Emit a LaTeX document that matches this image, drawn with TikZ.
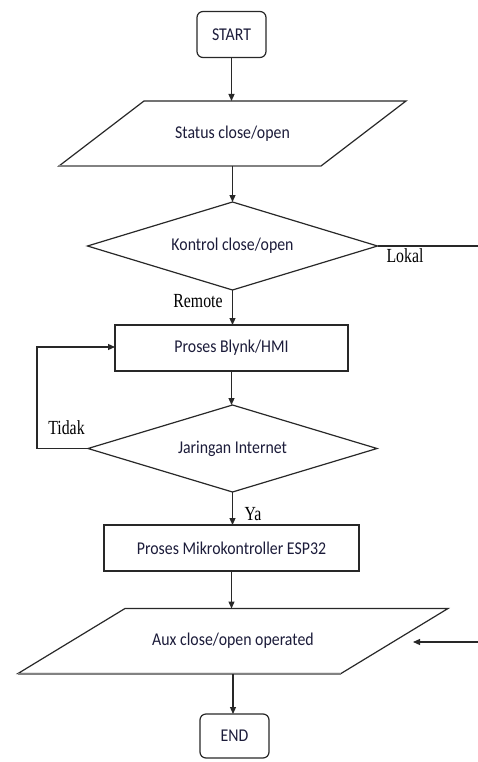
\documentclass[tikz,border=0pt]{standalone}
\usepackage{fontspec}
\usetikzlibrary{arrows.meta,shapes.geometric}
\newfontfamily\boxfont{Carlito}[FakeStretch=0.88]
\newfontfamily\labfont{Liberation Serif}[FakeStretch=0.79]
\definecolor{txt}{RGB}{28,28,58}
\definecolor{edge}{RGB}{40,40,40}
\definecolor{shade}{RGB}{130,130,130}
\begin{document}
\begin{tikzpicture}[x=1pt,y=-1pt,
  every node/.style={inner sep=0pt,outer sep=0pt},
  boxtext/.style={font=\boxfont\fontsize{18}{20}\selectfont,text=txt},
  labtext/.style={font=\labfont\fontsize{20}{22}\selectfont,text=black},
  term/.style={boxtext,draw=edge,line width=1.2pt,rounded corners=6pt,minimum width=69pt,minimum height=46pt},
  procbox/.style={boxtext,draw=edge,line width=1.2pt,minimum height=46pt},
  decision/.style={boxtext,draw=edge,line width=1.2pt,diamond,aspect=3},
  iobody/.style={boxtext,minimum height=65pt},
  flow/.style={draw=edge,line width=1.2pt,-{Triangle[length=7pt,width=6pt]}},
  plain/.style={draw=edge,line width=1.2pt},
  para/.style={draw=edge,line width=1.2pt,line join=miter},
  parabottom/.style={draw=shade,line width=2pt}
]
\useasboundingbox (0,0) rectangle (478,762);
\fill[white] (0,0) rectangle (478,762);

% nodes
\node[term] (start) at (231.5,34.5) {START};
\node[iobody,minimum width=262pt] (status) at (232.5,133.5) {Status close/open};
\node[decision,minimum width=290pt,minimum height=88pt] (kontrol) at (232.5,246) {Kontrol close/open};
\node[procbox,minimum width=233pt] (blynk) at (231.5,348) {Proses Blynk/HMI};
\node[decision,minimum width=289pt,minimum height=87pt] (jaringan) at (232.5,448.5) {Jaringan Internet};
\node[procbox,minimum width=255pt] (esp) at (231.5,548) {Proses Mikrokontroller ESP32};
\node[iobody,minimum width=323pt] (aux) at (233,641) {Aux close/open operated};
\node[term,minimum height=44pt] (end) at (234.5,736) {END};

% parallelograms
\draw[para] ([xshift=42.5pt]status.north west) -- ([xshift=42.5pt]status.north east)
  -- ([xshift=-42.5pt]status.south east) -- ([xshift=-42.5pt]status.south west) -- cycle;
\draw[parabottom] ([xshift=-42.5pt]status.south west) -- ([xshift=-42.5pt]status.south east);
\draw[para] ([xshift=53.5pt]aux.north west) -- ([xshift=53.5pt]aux.north east)
  -- ([xshift=-53.5pt]aux.south east) -- ([xshift=-53.5pt]aux.south west) -- cycle;
\draw[parabottom] ([xshift=-53.5pt]aux.south west) -- ([xshift=-53.5pt]aux.south east);

% labels
\node[labtext] (lokal) at (405,256) {Lokal};
\node[labtext] (remote) at (198,301) {Remote};
\node[labtext] (tidak) at (66.5,428) {Tidak};
\node[labtext] (ya) at (253,514) {Ya};

% free ends
\coordinate (lokalend) at (478,246);
\coordinate (loopbl) at (37,448.5);
\coordinate (looptl) at (37,347);
\coordinate (auxsrc) at (478,642);
\coordinate (auxtip) at (413,642);

% connectors
\draw[flow] (start.south) -- (start.south |- status.north);
\draw[flow] (status.south) -- (status.south -| kontrol.north) -- (kontrol.north);
\draw[plain] (kontrol.east) -- (lokalend);
\draw[flow] (kontrol.south) -- (kontrol.south |- blynk.north);
\draw[flow] (blynk.south) -- (blynk.south |- jaringan.north);
\draw[flow] (jaringan.west) -- (loopbl) -- (looptl) -- (looptl -| blynk.west);
\draw[flow] (jaringan.south) -- (jaringan.south |- esp.north);
\draw[flow] (esp.south) -- (esp.south |- aux.north);
\draw[flow] (auxsrc) -- (auxtip);
\draw[flow] (aux.south) -- (aux.south |- end.north);
\end{tikzpicture}
\end{document}
